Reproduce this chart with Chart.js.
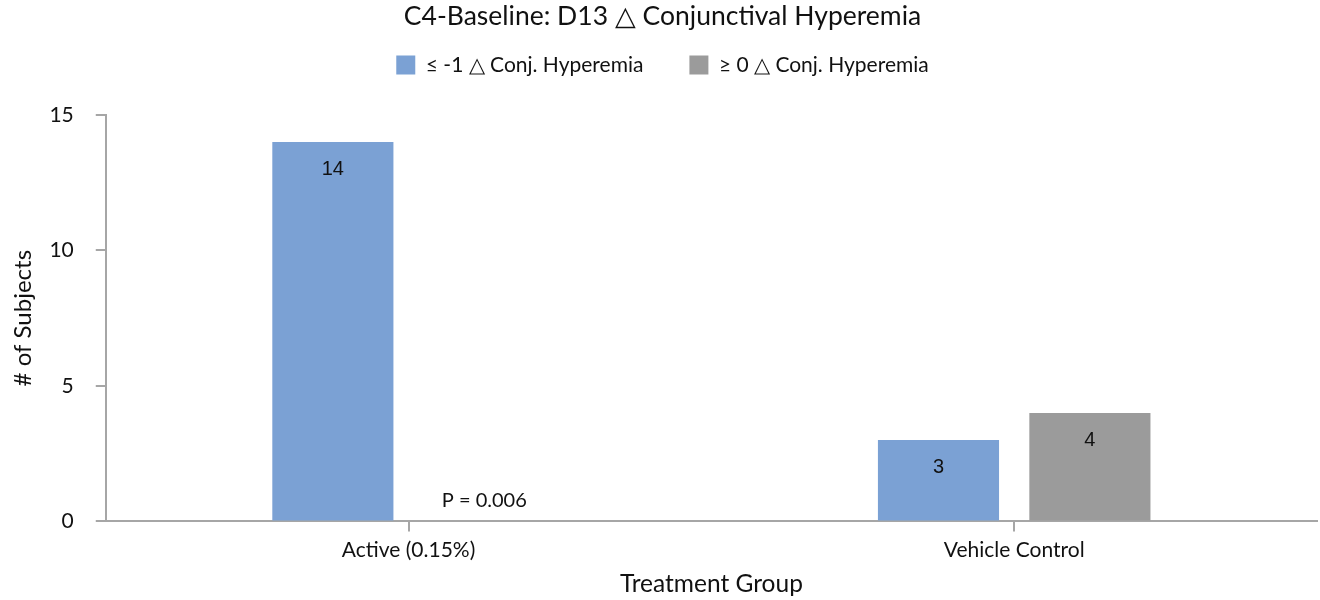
<!DOCTYPE html>
<html>
<head>
<meta charset="utf-8">
<script src="https://cdn.jsdelivr.net/npm/chart.js@4/dist/chart.umd.min.js"></script>
<style>
  html, body { margin: 0; padding: 0; background: #fff; }
  #wrap { width: 1320px; height: 600px; }
</style>
</head>
<body>
<div id="wrap"><canvas id="chart"></canvas></div>
<script>
// 数据
const categories = ['Active (0.15%)', 'Vehicle Control'];
const improvedCounts = [14, 3];
const notImprovedCounts = [0, 4];
const improvedLabels = ['14', '3'];
const notImprovedLabels = ['P = 0.006', '4'];
const seriesNames = ['\u2264 -1 \u25B3 Conj. Hyperemia', '\u2265 0 \u25B3 Conj. Hyperemia'];
const yTicks = [0, 5, 10, 15];

const axisColor = '#a6a6a6';

// 柱内标签
const barLabels = {
    id: 'barLabels',
    afterDatasetsDraw(chart) {
        const ctx = chart.ctx;
        ctx.save();
        ctx.textAlign = 'center';
        ctx.textBaseline = 'middle';
        ctx.fillStyle = '#111';
        chart.data.datasets.forEach((ds, di) => {
            chart.getDatasetMeta(di).data.forEach((bar, i) => {
                const text = ds.valueLabels[i];
                if (ds.data[i] === 0) {
                    ctx.font = '20px Lato';
                    ctx.fillText(text, bar.x, bar.y - 21);
                } else {
                    ctx.font = '20px "Liberation Sans", Arial';
                    ctx.fillText(text, bar.x, bar.y + 27);
                }
            });
        });
        ctx.restore();
    }
};

new Chart(document.getElementById('chart'), {
    type: 'bar',
    data: {
        labels: categories,
        datasets: [{
            label: seriesNames[0],
            data: improvedCounts,
            valueLabels: improvedLabels,
            backgroundColor: '#7ba1d4',
            categoryPercentage: 0.5,
            barPercentage: 0.8
        }, {
            label: seriesNames[1],
            data: notImprovedCounts,
            valueLabels: notImprovedLabels,
            backgroundColor: '#9b9b9b',
            categoryPercentage: 0.5,
            barPercentage: 0.8
        }]
    },
    options: {
        responsive: true,
        maintainAspectRatio: false,
        animation: false,
        layout: { padding: { left: 8, right: 3, top: 0, bottom: 1 } },
        plugins: {
            title: {
                display: true,
                text: 'C4-Baseline: D13 \u25B3 Conjunctival Hyperemia',
                color: '#111',
                font: { family: 'Lato', size: 26.5, weight: 'normal' },
                padding: { top: 1, bottom: -24.3 }
            },
            // 图例下方留白
            subtitle: {
                display: true,
                text: ' ',
                weight: 500,
                font: { size: 10 },
                padding: { top: 17.5, bottom: 0 }
            },
            legend: {
                labels: {
                    color: '#111',
                    font: { family: 'Lato', size: 21 },
                    boxWidth: 19,
                    boxHeight: 19,
                    padding: 46
                }
            },
            tooltip: { enabled: false }
        },
        scales: {
            x: {
                grid: {
                    offset: false,
                    drawOnChartArea: false,
                    color: axisColor,
                    lineWidth: 2,
                    tickLength: 10
                },
                border: { color: axisColor, width: 2 },
                ticks: {
                    color: '#111',
                    font: { family: 'Lato', size: 21 },
                    padding: 6
                },
                title: {
                    display: true,
                    text: 'Treatment Group',
                    color: '#111',
                    font: { family: 'Lato', size: 24.5 },
                    padding: { top: 1, bottom: 0 }
                }
            },
            y: {
                min: 0,
                max: 15,
                afterBuildTicks(scale) {
                    scale.ticks = yTicks.map(v => ({ value: v }));
                },
                grid: {
                    drawOnChartArea: false,
                    color: axisColor,
                    lineWidth: 2,
                    tickLength: 10
                },
                border: { color: axisColor, width: 2 },
                ticks: {
                    color: '#111',
                    font: { family: 'Lato', size: 21 },
                    padding: 22
                },
                title: {
                    display: true,
                    text: '# of Subjects',
                    color: '#111',
                    font: { family: 'Lato', size: 24 },
                    padding: { top: 0.6, bottom: -10 }
                }
            }
        }
    },
    plugins: [barLabels]
});
</script>
</body>
</html>
